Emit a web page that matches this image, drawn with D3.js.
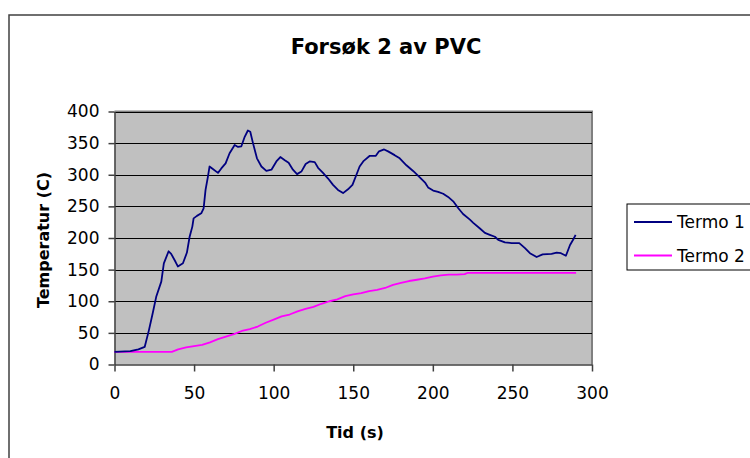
<!DOCTYPE html>
<html>
<head>
<meta charset="utf-8">
<script src="https://cdn.jsdelivr.net/npm/d3@7"></script>
<style>
  html, body { margin: 0; padding: 0; background: #fff; }
  svg { display: block; }
  text { font-family: "DejaVu Sans", sans-serif; fill: #000; }
</style>
</head>
<body>
<svg id="chart" width="750" height="458"></svg>
<script>
// Termo 1: time (s) and temperature (C)
const termo1Time = [0, 10, 15, 19, 21.6, 24, 26.2, 29.4, 31, 34, 35.6, 38.4, 39.8, 43, 45.5, 47.2, 48.9, 49.7, 51.8, 54.5, 56, 57.2, 58.7, 59.7, 61.8, 65, 67.1, 69.8, 72.3, 75.5, 77.6, 79.7, 81.8, 83.8, 85.3, 87, 89.5, 92.3, 95.4, 98.6, 101.7, 104.2, 107, 109.4, 112.1, 114.7, 117.4, 120.1, 122.6, 125.8, 127.9, 131, 134.2, 137.3, 140.4, 143.6, 146.7, 149.5, 152, 154, 156.6, 160.4, 164.2, 166.2, 169.4, 171.9, 176, 179.2, 183.4, 187.6, 191.8, 195.3, 197, 200.2, 203.3, 206.5, 209.6, 212.8, 216, 219, 223.3, 225.4, 229.6, 232.7, 235.8, 239, 241.1, 245.3, 249.5, 254.3, 257.9, 261, 265.2, 269, 274.6, 277.8, 280.5, 283.6, 286.2, 288.3, 289.7];
const termo1Temp = [20, 21, 24, 28, 54, 81, 107, 131, 160, 179, 175, 162, 155, 160, 177, 202, 218, 231, 235, 239, 247, 276, 297, 313, 309, 303, 310, 318, 334, 347, 344, 345, 360, 370, 368, 350, 326, 313, 306, 308, 321, 328, 323, 319, 308, 301, 305, 317, 321, 320, 311, 303, 294, 284, 276, 271, 277, 284, 300, 313, 322, 330, 330, 337, 340, 337, 331, 326, 315, 306, 296, 287, 280, 275, 273, 270, 265, 258, 247, 238, 229, 224, 215, 208, 205, 202, 197, 193, 192, 192, 184, 176, 170, 174, 175, 177, 176, 172, 189, 198, 205];

// Termo 2: time (s) and temperature (C)
const termo2Time = [0, 10, 20, 30, 36, 40, 45, 50, 55, 60, 65, 70, 75, 80, 85, 90, 95, 100, 105, 110, 115, 120, 125, 130, 135, 140, 145, 150, 155, 160, 165, 170, 175, 180, 185, 190, 195, 200, 205, 210, 215, 220, 222, 230, 240, 250, 260, 270, 280, 290];
const termo2Temp = [20, 20, 20, 20, 20, 24, 27, 29, 31, 35, 40, 44, 48, 53, 56, 60, 66, 71, 76, 79, 84, 88, 91, 96, 100, 103, 108, 111, 113, 116, 118, 121, 126, 129, 132, 134, 136, 139, 141, 142, 142, 143, 145, 145, 145, 145, 145, 145, 145, 145];

const seriesNames = ["Termo 1", "Termo 2"];
const seriesColors = ["#000080", "#ff00ff"];
const xTicks = [0, 50, 100, 150, 200, 250, 300];
const yTicks = [0, 50, 100, 150, 200, 250, 300, 350, 400];
const chartTitle = "Forsøk 2 av PVC";
const xTitle = "Tid (s)";
const yTitle = "Temperatur (C)";

const svg = d3.select("#chart");

// outer chart frame
svg.append("rect")
  .attr("x", 9).attr("y", 15)
  .attr("width", 800).attr("height", 500)
  .attr("fill", "#fff")
  .attr("stroke", "#404040").attr("stroke-width", 1.5);

const plot = { left: 114.5, right: 592, top: 111.5, bottom: 364.5 };

const x = d3.scaleLinear().domain([0, 300]).range([plot.left, plot.right]);
const y = d3.scaleLinear().domain([0, 400]).range([plot.bottom, plot.top]);

// plot background
svg.append("rect")
  .attr("x", plot.left).attr("y", plot.top)
  .attr("width", plot.right - plot.left).attr("height", plot.bottom - plot.top)
  .attr("fill", "#c0c0c0");

// top and right plot edge
svg.append("path")
  .attr("d", `M${plot.left},${plot.top}H${plot.right}V${plot.bottom}`)
  .attr("fill", "none").attr("stroke", "#808080").attr("stroke-width", 2);

// horizontal gridlines
svg.append("g").selectAll("line")
  .data(yTicks.filter(v => v > 0))
  .join("line")
  .attr("x1", plot.left).attr("x2", plot.right)
  .attr("y1", d => Math.round(y(d)) + 0.5).attr("y2", d => Math.round(y(d)) + 0.5)
  .attr("stroke", "#000").attr("stroke-width", 1);

// axes
const yAxis = d3.axisLeft(y).tickValues(yTicks).tickSize(6).tickPadding(9).tickSizeOuter(0);
const xAxis = d3.axisBottom(x).tickValues(xTicks).tickSize(7).tickPadding(15).tickSizeOuter(0);

const gy = svg.append("g").attr("transform", `translate(${plot.left},0)`).call(yAxis);
const gx = svg.append("g").attr("transform", `translate(0,${plot.bottom})`).call(xAxis);

[gx, gy].forEach(g => {
  g.select(".domain").attr("stroke", "#404040").attr("stroke-width", 1.5);
  g.selectAll(".tick line").attr("stroke", "#404040").attr("stroke-width", 1.5);
  g.selectAll(".tick text")
    .attr("font-family", "DejaVu Sans, sans-serif")
    .attr("font-size", 17).attr("fill", "#000");
});

// series lines (Termo 2 underneath, Termo 1 on top)
const line = d3.line().x(d => x(d[0])).y(d => y(d[1]));
const seriesPoints = [
  d3.zip(termo1Time, termo1Temp),
  d3.zip(termo2Time, termo2Temp)
];
[1, 0].forEach(i => {
  svg.append("path")
    .datum(seriesPoints[i])
    .attr("d", line)
    .attr("fill", "none")
    .attr("stroke", seriesColors[i])
    .attr("stroke-width", 1.8)
    .attr("stroke-linejoin", "round");
});

// titles
svg.append("text")
  .attr("x", 386).attr("y", 47)
  .attr("text-anchor", "middle").attr("dominant-baseline", "central")
  .attr("font-weight", "bold").attr("font-size", 21)
  .text(chartTitle);

svg.append("text")
  .attr("x", 355).attr("y", 432)
  .attr("text-anchor", "middle").attr("dominant-baseline", "central")
  .attr("font-weight", "bold").attr("font-size", 16)
  .text(xTitle);

svg.append("text")
  .attr("transform", "translate(43,240) rotate(-90)")
  .attr("text-anchor", "middle").attr("dominant-baseline", "central")
  .attr("font-weight", "bold").attr("font-size", 16)
  .text(yTitle);

// legend
const legend = svg.append("g");
legend.append("rect")
  .attr("x", 627).attr("y", 204)
  .attr("width", 200).attr("height", 66)
  .attr("fill", "#fff").attr("stroke", "#000").attr("stroke-width", 1);

const legendRows = [222, 255.5];
seriesNames.forEach((name, i) => {
  legend.append("line")
    .attr("x1", 634).attr("x2", 672)
    .attr("y1", legendRows[i]).attr("y2", legendRows[i])
    .attr("stroke", seriesColors[i]).attr("stroke-width", 1.8);
  legend.append("text")
    .attr("x", 677).attr("y", legendRows[i])
    .attr("dominant-baseline", "central")
    .attr("font-size", 17)
    .text(name);
});
</script>
</body>
</html>
